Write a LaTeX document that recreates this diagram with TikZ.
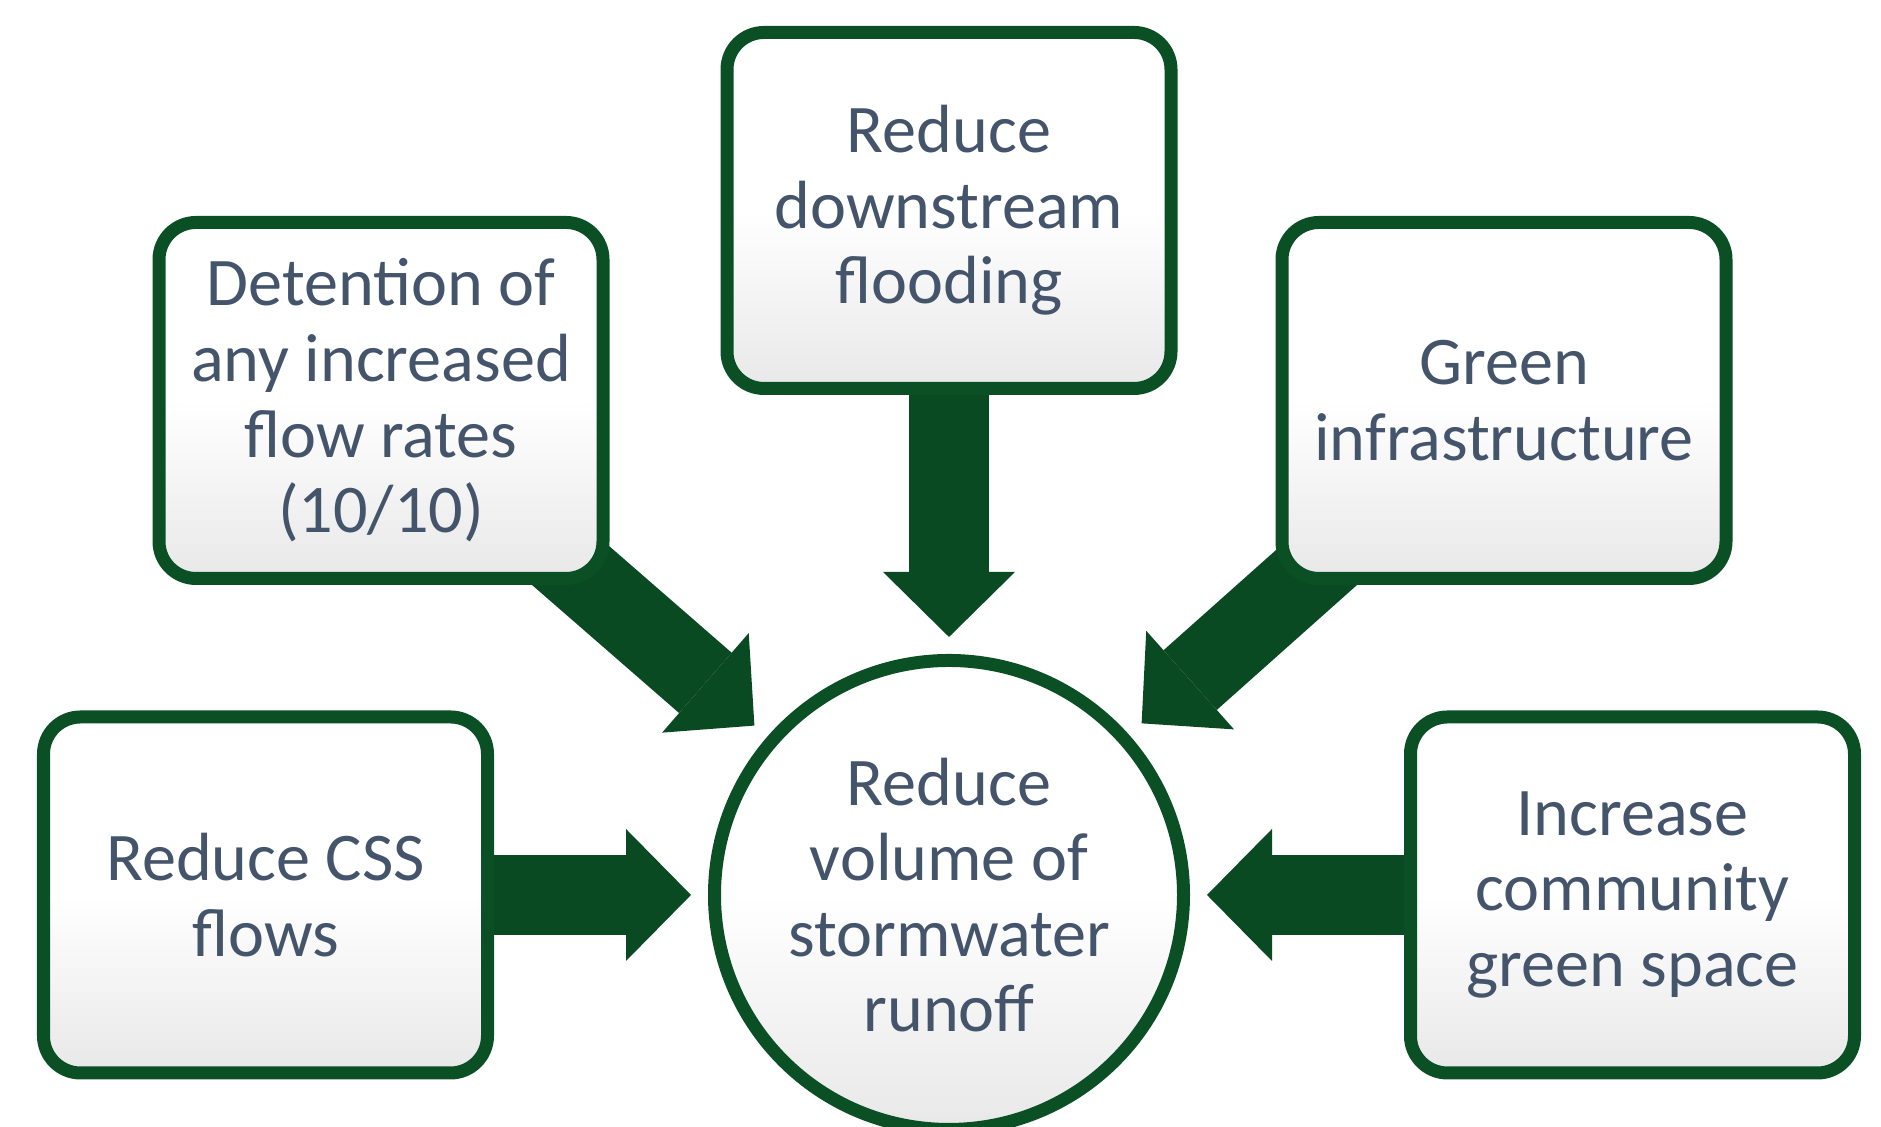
\documentclass[tikz,border=0pt]{standalone}
\usepackage{fontspec}
\setmainfont{Carlito}
\usepackage{tikz}
\usetikzlibrary{positioning}
\usetikzlibrary{arrows.meta,backgrounds}
\definecolor{rimgreen}{HTML}{0B4F25}
\definecolor{arrowgreen}{HTML}{0A4A22}
\definecolor{slatetext}{HTML}{44546A}

\begin{document}
\begin{tikzpicture}[auto, node distance=2.14cm,
  fatarrow/.style={draw=arrowgreen, line width=0.8cm,
    -{Triangle[length=0.65cm,width=1.32cm,line width=0pt]}, shorten >=0.17cm}]
\tikzstyle{goal}=[rectangle, rounded corners=0.37cm, draw=rimgreen, line width=0.13cm,
  top color=white, bottom color=black!9, middle color=white,
  minimum width=4.44cm, minimum height=3.56cm, inner sep=0pt, align=center,
  text=slatetext, font=\fontsize{19.4}{21.5}\selectfont]
\tikzstyle{hubgoal}=[goal, circle, minimum size=4.69cm]
\useasboundingbox (0,0) rectangle (18.81,11.27);
\node[hubgoal]  (hub) at (9.49,2.32) {Reduce\\volume of\\stormwater\\runoff};
\node[goal]     (top) [above=2.59cm of hub]   {Reduce\\downstream\\flooding};
\node[goal]     (tl)  [below left=1.9cm and 1.11cm of top.north west]
                      {Detention of\\any increased\\flow rates\\(10/10)};
\node[goal]     (tr)  [below right=1.9cm and 0.98cm of top.north east]
                      {Green\\infrastructure};
\node[goal]     (bl)  [left=of hub]   {Reduce CSS\\flows};
\node[goal]     (br)  [right=of hub]  {Increase\\community\\green space};
\begin{scope}[on background layer]
\path
(top.center) edge[fatarrow] (hub)
(tl.center)  edge[fatarrow] (hub)
(tr.center)  edge[fatarrow] (hub)
(bl.center)  edge[fatarrow] (hub)
(br.center)  edge[fatarrow] (hub)
;
\end{scope}
\end{tikzpicture}
\end{document}
